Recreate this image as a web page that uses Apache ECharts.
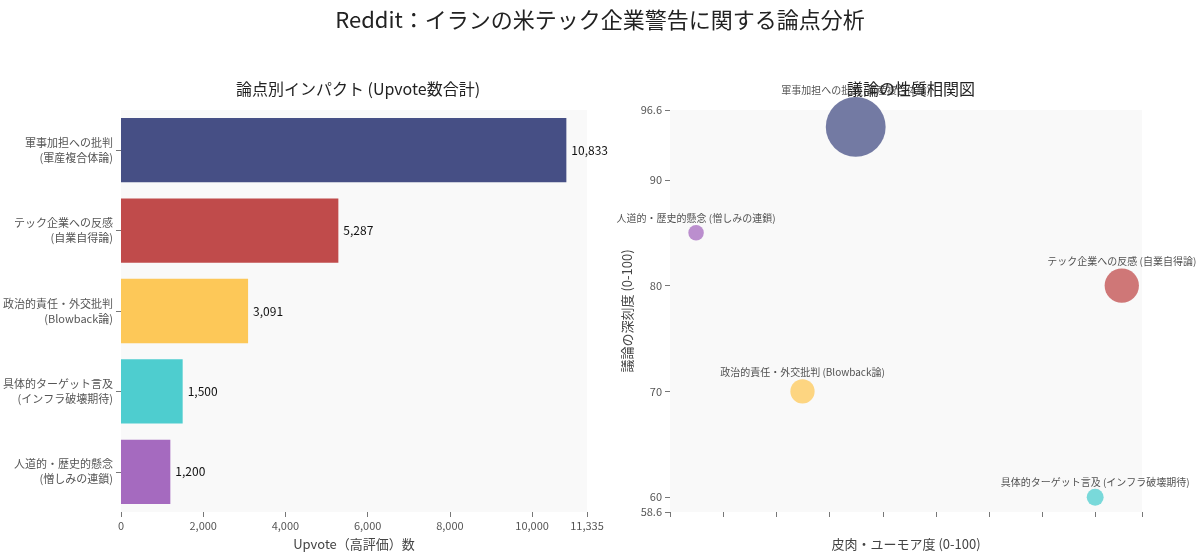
<!DOCTYPE html>
<html lang="ja">
<head>
<meta charset="UTF-8">
<script src="https://cdn.jsdelivr.net/npm/echarts/dist/echarts.min.js"></script>
<style>
  body { margin: 0; background: #fff; }
  #main { width: 1200px; height: 560px; }
</style>
</head>
<body>
<div id="main"></div>
<script>
  const categories = ['軍事加担への批判\n(軍産複合体論)', 'テック企業への反感\n(自業自得論)', '政治的責任・外交批判\n(Blowback論)', '具体的ターゲット言及\n(インフラ破壊期待)', '人道的・歴史的懸念\n(憎しみの連鎖)'];
  const bubbleLabels = ['軍事加担への批判 (軍産複合体論)', 'テック企業への反感 (自業自得論)', '政治的責任・外交批判 (Blowback論)', '具体的ターゲット言及 (インフラ破壊期待)', '人道的・歴史的懸念 (憎しみの連鎖)'];
  const upvotes = [10833, 5287, 3091, 1500, 1200];
  const irony = [40, 90, 30, 85, 10];
  const depth = [95, 80, 70, 60, 85];
  const colors = ['#464f85', '#c04b4b', '#fdc858', '#4ecdcf', '#a56abf'];

  const font = "'Noto Sans CJK JP', 'Noto Sans', sans-serif";
  const chart = echarts.init(document.getElementById('main'));
  const axisText = { color: '#555', fontSize: 11, fontFamily: font };

  chart.setOption({
    textStyle: { fontFamily: font },
    title: [
      { text: 'Reddit：イランの米テック企業警告に関する論点分析', left: 'center', top: 4, textStyle: { fontSize: 22, fontWeight: 'normal', color: '#222', fontFamily: font } },
      { text: '論点別インパクト (Upvote数合計)', left: 353, top: 76, textAlign: 'center', textStyle: { fontSize: 16, fontWeight: 'normal', color: '#222', fontFamily: font } },
      { text: '議論の性質相関図', left: 906, top: 76, textAlign: 'center', textStyle: { fontSize: 16, fontWeight: 'normal', color: '#222', fontFamily: font } }
    ],
    grid: [
      { left: 120, top: 110, width: 467, height: 402, backgroundColor: '#f9f9f9', show: true, borderWidth: 0 },
      { left: 670, top: 110, width: 472, height: 402, backgroundColor: '#f9f9f9', show: true, borderWidth: 0 }
    ],
    xAxis: [
      { gridIndex: 0, type: 'value', min: 0, max: 11335, interval: 2000,
        name: 'Upvote（高評価）数', nameLocation: 'middle', nameGap: 26, nameTextStyle: { fontSize: 13, color: '#444', fontFamily: font },
        axisLine: { show: false }, axisTick: { show: true, lineStyle: { color: '#777' } }, splitLine: { show: false }, axisLabel: axisText },
      { gridIndex: 1, type: 'value', min: 5.1, max: 93.8, interval: 10,
        name: '皮肉・ユーモア度 (0-100)', nameLocation: 'middle', nameGap: 26, nameTextStyle: { fontSize: 13, color: '#444', fontFamily: font },
        axisLine: { show: false }, axisTick: { show: true, lineStyle: { color: '#777' } }, splitLine: { show: false },
        axisLabel: Object.assign({}, axisText, { formatter: v => (Math.abs(v % 10) < 0.01 ? v : '') }),
        customValues: undefined }
    ],
    yAxis: [
      { gridIndex: 0, type: 'category', data: categories, inverse: true,
        axisLine: { show: false }, axisTick: { show: true, alignWithLabel: true, lineStyle: { color: '#777' } },
        axisLabel: Object.assign({}, axisText, { lineHeight: 15, align: 'right' }) },
      { gridIndex: 1, type: 'value', min: 58.6, max: 96.6,
        name: '議論の深刻度 (0-100)', nameLocation: 'middle', nameGap: 36, nameTextStyle: { fontSize: 13, color: '#444', fontFamily: font },
        axisLine: { show: false }, axisTick: { show: true, lineStyle: { color: '#777' } }, splitLine: { show: false },
        axisLabel: axisText }
    ],
    series: [
      { type: 'bar', xAxisIndex: 0, yAxisIndex: 0, barCategoryGap: '20%',
        data: upvotes.map((v, i) => ({ value: v, itemStyle: { color: colors[i] } })),
        label: { show: true, position: 'right', color: '#111', fontSize: 12, fontFamily: font, formatter: p => p.value.toLocaleString('en-US') } },
      { type: 'scatter', xAxisIndex: 1, yAxisIndex: 1,
        data: irony.map((x, i) => ({ value: [x, depth[i], upvotes[i]], name: bubbleLabels[i], itemStyle: { color: colors[i], opacity: 0.75 } })),
        symbolSize: d => 10 + d[2] * 0.0046,
        label: { show: true, position: 'top', distance: 2, color: '#111', fontSize: 10, fontFamily: font, formatter: p => p.name } }
    ]
  });
</script>
</body>
</html>
